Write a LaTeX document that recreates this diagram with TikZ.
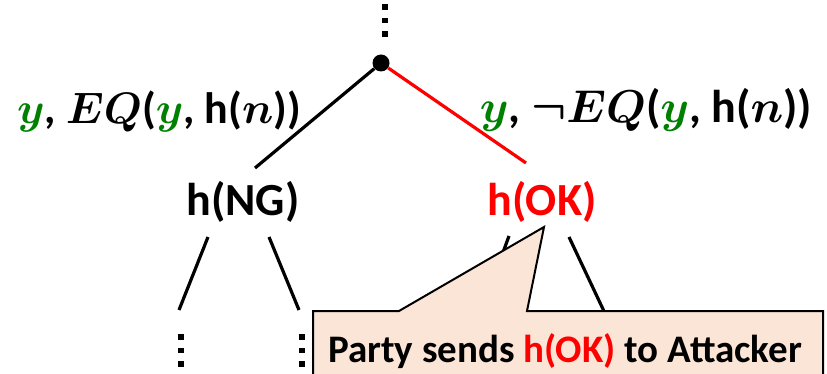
\RequirePackage{fix-cm}
\documentclass[tikz,border=0pt]{standalone}
\usepackage{fontspec}
\setmainfont{Carlito}
\definecolor{okred}{RGB}{255,0,0}
\definecolor{ygreen}{RGB}{0,128,0}
\definecolor{notefill}{RGB}{251,229,214}
% 方块省略号
\newcommand{\vsq}{\vbox{\offinterlineskip\hbox{\rule{5.5pt}{5.5pt}}\vskip8pt\hbox{\rule{5.5pt}{5.5pt}}\vskip8pt\hbox{\rule{5.5pt}{5.5pt}}}}
\begin{document}
\begin{tikzpicture}[x=1pt,y=-1pt,
    lbl/.style={font=\fontsize{46}{50}\selectfont\bfseries, inner sep=0pt, anchor=base},
    eqlbl/.style={lbl, font=\fontsize{46}{50}\selectfont\bfseries\boldmath},
    edge/.style={line width=3.2pt},
    vd/.style={inner sep=0pt, anchor=north}]
    \useasboundingbox (0,0) rectangle (827,374);
    \clip (0,0) rectangle (827,374);

    % 根结点与上方省略号
    \node[vd] (up) at (385,4) {\vsq};
    \node[circle, fill, inner sep=0pt, minimum size=17pt] (root) at (381,63) {};

    % 子结点
    \node[lbl] (ng) at (243,215) {h(NG)};
    \node[lbl, text=okred] (ok) at (542,215) {h(OK)};

    % 分支
    \draw[edge] (root) -- ([shift={(12,-47)}]ng.base);
    \draw[edge, okred] (root) -- ([shift={(-16,-52)}]ok.base);

    % 分支标注
    \node[eqlbl, font=\fontsize{44}{48}\selectfont\bfseries\boldmath] (eqL) at (159,124) {\textcolor{ygreen}{$y$}, $EQ$(\textcolor{ygreen}{$y$}, h($n$))};
    \node[eqlbl] (eqR) at (646,123) {\textcolor{ygreen}{$y$}, $\neg EQ$(\textcolor{ygreen}{$y$}, h($n$))};

    % 叶结点
    \node[vd] (ng1) at (181,334) {\vsq};
    \node[vd] (ng2) at (302,334) {\vsq};
    \node[vd] (ok1) at (478,334) {\vsq};
    \node[vd] (ok2) at (615,334) {\vsq};
    \draw[edge] ([shift={(-35,22)}]ng.base) -- ([shift={(-2,-24)}]ng1.north);
    \draw[edge] ([shift={(26,22)}]ng.base) -- ([shift={(-3,-24)}]ng2.north);
    \draw[edge] ([shift={(-33,21)}]ok.base) -- ([shift={(4,-24)}]ok1.north);
    \draw[edge] ([shift={(27,22)}]ok.base) -- ([shift={(-5,-10)}]ok2.north);

    % 提示框
    \filldraw[fill=notefill, line width=2pt] (313,311) -- (399,311) -- ([shift={(2,12)}]ok.base) -- (527,311) -- (823,311) -- (823,390) -- (313,390) -- cycle;
    \node[lbl, font=\fontsize{39}{42}\selectfont\bfseries] (note) at (565,362) {Party sends \textcolor{okred}{h(OK)} to Attacker};
\end{tikzpicture}
\end{document}
